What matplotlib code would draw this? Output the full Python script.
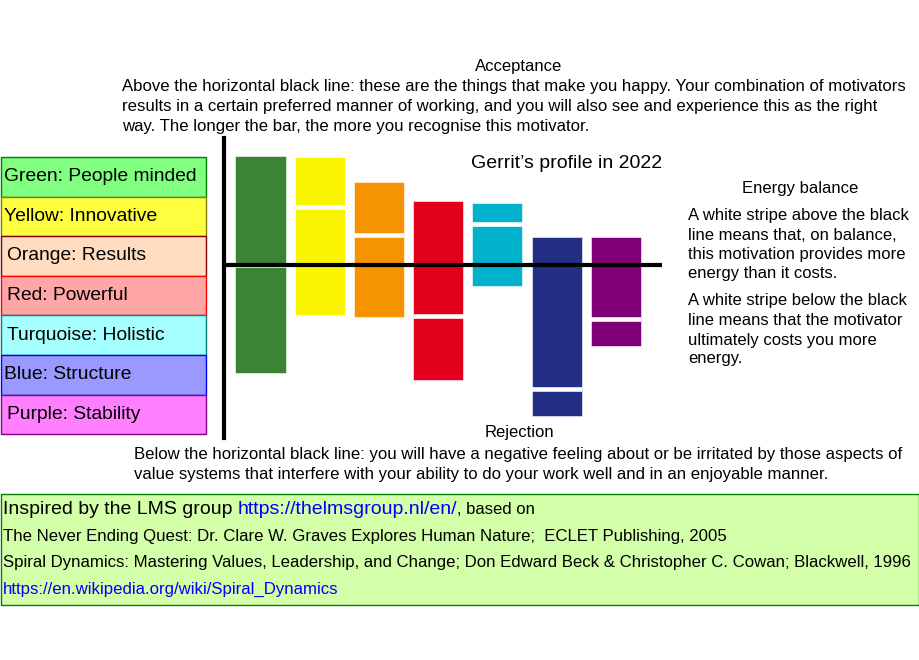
import numpy as np
import matplotlib
matplotlib.use('Agg')
import matplotlib.pyplot as plt
from matplotlib.patches import Rectangle

plt.rcParams['font.family'] = ['Liberation Sans', 'DejaVu Sans']

# motivators, left to right
Names = ['Green', 'Yellow', 'Orange', 'Red', 'Turquoise', 'Blue', 'Purple']
Labels = ['Green: People minded', 'Yellow: Innovative', 'Orange: Results', 'Red: Powerful',
          'Turquoise: Holistic', 'Blue: Structure', 'Purple: Stability']
# bar ends (acceptance above 0, rejection below 0) and white energy stripe
BarTop = [10.9, 10.8, 8.3, 6.4, 6.2, 2.8, 2.8]
BarBottom = [-10.8, -5.0, -5.2, -11.5, -2.1, -15.1, -8.1]
Stripe = [0.0, 5.8, 3.0, -5.1, 4.1, -12.4, -5.4]

BarColors = ['#3c8434', '#f9f500', '#f59300', '#e3001d', '#00b2cc', '#232f85', '#800078']
BoxFill = ['#80ff80', '#ffff40', '#ffdcc0', '#ffa6a6', '#a6ffff', '#9999ff', '#ff80ff']
BoxEdge = ['#008000', '#808000', '#800000', '#ff0000', '#008080', '#0000ff', '#800080']

TopText = ['Above the horizontal black line: these are the things that make you happy. Your combination of motivators',
           'results in a certain preferred manner of working, and you will also see and experience this as the right',
           'way. The longer the bar, the more you recognise this motivator.']
BottomText = ['Below the horizontal black line: you will have a negative feeling about or be irritated by those aspects of',
              'value systems that interfere with your ability to do your work well and in an enjoyable manner.']
EnergyText = ['A white stripe above the black', 'line means that, on balance,', 'this motivation provides more',
              'energy than it costs.', 'A white stripe below the black', 'line means that the motivator',
              'ultimately costs you more', 'energy.']
Refs = ['The Never Ending Quest: Dr. Clare W. Graves Explores Human Nature;  ECLET Publishing, 2005',
        'Spiral Dynamics: Mastering Values, Leadership, and Change; Don Edward Beck & Christopher C. Cowan; Blackwell, 1996']
WikiLink = 'https://en.wikipedia.org/wiki/Spiral_Dynamics'
LmsLink = 'https://thelmsgroup.nl/en/'

W, H = 920, 660
fig = plt.figure(figsize=(W / 100, H / 100), dpi=100)

# background axes in pixel units for the text and boxes
bg = fig.add_axes([0, 0, 1, 1])
bg.set_xlim(0, W)
bg.set_ylim(H, 0)
bg.axis('off')

fs = 12.1
bg.text(519, 67, 'Acceptance', ha='center', va='center', fontsize=12)
for i, line in enumerate(TopText):
    bg.text(122, 87 + 20 * i, line, ha='left', va='center', fontsize=fs)
bg.text(519, 433, 'Rejection', ha='center', va='center', fontsize=12)
for i, line in enumerate(BottomText):
    bg.text(134, 454 + 20 * i, line, ha='left', va='center', fontsize=fs)
bg.text(800, 189, 'Energy balance', ha='center', va='center', fontsize=12)
ey = [215.5, 235, 254, 273.5, 301, 320.5, 340, 359]
for line, y in zip(EnergyText, ey):
    bg.text(688, y, line, ha='left', va='center', fontsize=12)
bg.text(471, 163, 'Gerrit\u2019s profile in 2022', ha='left', va='center', fontsize=14)

# legend boxes
bh = 39.6
lx = [4, 4, 7, 7, 7, 4, 7]
for i, lab in enumerate(Labels):
    y0 = 157 + bh * i
    bg.add_patch(Rectangle((1, y0), 205.5, bh, facecolor=BoxFill[i], edgecolor=BoxEdge[i], lw=1))
    bg.text(lx[i], y0 + bh / 2, lab, ha='left', va='center', fontsize=13.9)

# reference box
bg.add_patch(Rectangle((1, 494), 918, 111, facecolor='#d2ffa8', edgecolor='#008000', lw=1))
t1 = bg.text(3, 509, 'Inspired by the LMS group ', ha='left', va='center', fontsize=14)
t2 = bg.annotate(LmsLink, xy=(1, 0), xycoords=t1, ha='left', va='bottom', fontsize=14,
                 color='#0000ff')
bg.annotate(', based on', xy=(1, 0), xycoords=t2, ha='left', va='bottom', fontsize=12)
for i, line in enumerate(Refs):
    bg.text(3, 537 + 26 * i, line, ha='left', va='center', fontsize=12.1)
bg.text(3, 589, WikiLink, ha='left', va='center', fontsize=12.1, color='#0000ff')

# chart axes
left, right, top, bottom = 224.5, 662, 138.3, 438.3
ax = fig.add_axes([left / W, 1 - bottom / H, (right - left) / W, (bottom - top) / H])
ax.patch.set_alpha(0)
x = np.arange(len(Names))
ax.bar(x, np.array(BarTop) - np.array(BarBottom), bottom=BarBottom, width=0.845,
       color=BarColors, edgecolor='white', linewidth=0.4)
ax.hlines(Stripe, x - 0.43, x + 0.43, colors='white', linewidth=3.3)
ax.axhline(0, color='black', lw=3.0, zorder=5)
ax.set_xlim(-0.608, 6.78)
ax.set_ylim(-17.33, 12.67)
for s in ['top', 'right', 'bottom']:
    ax.spines[s].set_visible(False)
ax.spines['left'].set_linewidth(3.0)
ax.set_xticks([])
ax.set_yticks([])

fig.savefig('out.png', dpi=100)
